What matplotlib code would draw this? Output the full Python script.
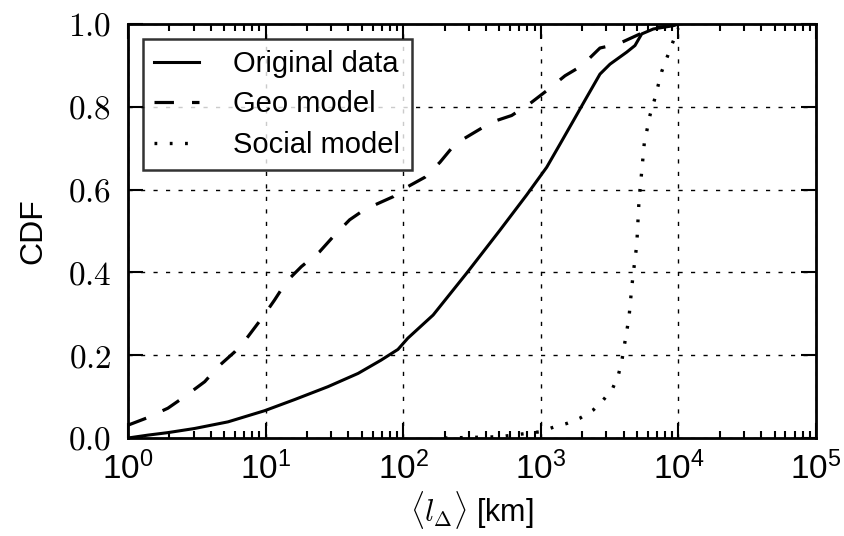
import numpy as np
import matplotlib
matplotlib.use("Agg")
import matplotlib.pyplot as plt
from matplotlib.ticker import LogLocator, LogFormatterMathtext, FixedLocator, FuncFormatter, NullFormatter

plt.rcParams['font.family'] = ['Liberation Sans', 'DejaVu Sans']
plt.rcParams['mathtext.fontset'] = 'cm'
plt.rcParams['lines.scale_dashes'] = False

# Original data (solid)
orig_x = [1.0, 1.4, 1.95, 3.05, 5.33, 9.85, 16.3, 28.4, 47, 69, 91.6, 108, 165, 289, 505, 789, 1104, 1380, 1722, 2155, 2692, 3184, 4210, 4835, 5410, 6580, 9180, 10000]
orig_y = [0.0, 0.007, 0.013, 0.023, 0.039, 0.066, 0.093, 0.124, 0.156, 0.188, 0.214, 0.241, 0.297, 0.398, 0.502, 0.587, 0.654, 0.710, 0.766, 0.823, 0.879, 0.903, 0.932, 0.948, 0.976, 0.988, 0.996, 1.0]

# Geo model (dashed)
geo_x = [1.0, 1.36, 1.95, 2.58, 3.61, 4.51, 5.96, 7.45, 9.57, 11.6, 14.2, 18.2, 24.7, 30.9, 40.8, 52.5, 84.7, 100, 144, 185, 238, 314, 440, 614, 835, 1104, 1500, 1983, 2692, 3660, 5260, 6580, 8700, 10000]
geo_y = [0.031, 0.048, 0.072, 0.100, 0.136, 0.172, 0.208, 0.245, 0.293, 0.333, 0.378, 0.414, 0.450, 0.486, 0.527, 0.552, 0.583, 0.601, 0.630, 0.666, 0.710, 0.734, 0.763, 0.779, 0.808, 0.839, 0.875, 0.899, 0.942, 0.952, 0.976, 0.990, 0.996, 1.0]

# Social model (dotted)
soc_x = [200, 500, 986, 1233, 1542, 1928, 2410, 2850, 3330, 3660, 3870, 4030, 4210, 4380, 4575, 4700, 4980, 5175, 5410, 5650, 6220, 6690, 7560, 8220, 8940, 9980]
soc_y = [0.0, 0.003, 0.015, 0.026, 0.035, 0.048, 0.068, 0.092, 0.12, 0.152, 0.184, 0.22, 0.257, 0.293, 0.362, 0.398, 0.466, 0.575, 0.643, 0.712, 0.78, 0.816, 0.885, 0.917, 0.949, 0.99]

xticks = [1, 10, 100, 1000, 10000, 100000]
yticks = [0.0, 0.2, 0.4, 0.6, 0.8, 1.0]

fig = plt.figure(figsize=(8.44, 5.36), dpi=100)
ax = fig.add_axes([128/844, 1-438/536, (816-128)/844, (438-24)/536])

ax.plot(orig_x, orig_y, color='black', lw=2.2, label='Original data')
ax.plot(geo_x, geo_y, color='black', lw=2.3, dashes=(14, 13), label='Geo model')
ax.plot(soc_x, soc_y, color='black', lw=2.4, dashes=(2, 9), label='Social model')

ax.set_xscale('log')
ax.set_xlim(1, 1e5)
ax.set_ylim(0, 1)
ax.xaxis.set_major_locator(FixedLocator(xticks))
ax.xaxis.set_major_formatter(LogFormatterMathtext())
ax.xaxis.set_minor_locator(LogLocator(base=10, subs=np.arange(2, 10)))
ax.xaxis.set_minor_formatter(NullFormatter())
ax.yaxis.set_major_locator(FixedLocator(yticks))
ax.yaxis.set_major_formatter(FuncFormatter(lambda v, p: r'$%.1f$' % v))

ax.tick_params(which='both', direction='in', top=True, right=True, labelsize=24, width=1.5)
ax.tick_params(axis='x', pad=10)
ax.tick_params(axis='y', pad=12)
ax.tick_params(which='major', length=11)
ax.tick_params(which='minor', length=5)

ax.grid(True, which='major', color='black', linestyle=(0, (3, 6)), lw=1.0)

for s in ax.spines.values():
    s.set_linewidth(2)

ax.set_xlabel(r'$\langle l_\Delta\rangle$ [km]', fontsize=22, labelpad=2)
ax.set_ylabel('CDF', fontsize=23, labelpad=14)

leg = ax.legend(loc='upper left', fontsize=21, frameon=True, fancybox=False,
                handlelength=1.55, borderpad=0.4, labelspacing=0.42, handletextpad=1.15)
leg.get_frame().set_edgecolor('black')
leg.get_frame().set_linewidth(1.8)

fig.savefig('out.png', dpi=100)
